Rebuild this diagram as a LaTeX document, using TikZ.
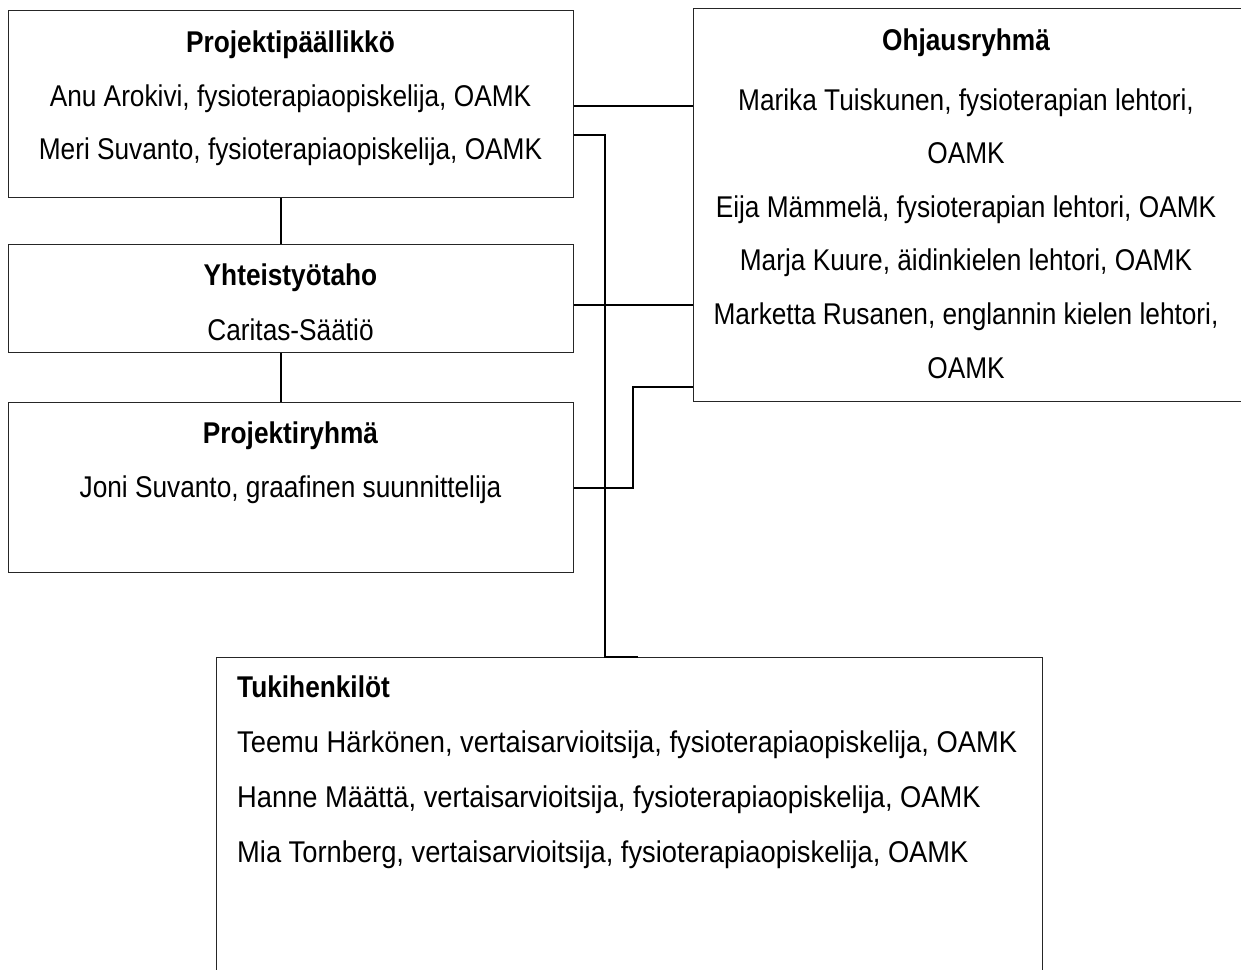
\documentclass[tikz,border=0pt]{standalone}
\usepackage{fontspec}
\setmainfont{Liberation Sans}[FakeStretch=0.875]
\newfontfamily\widerfont{Liberation Sans}[FakeStretch=0.91]
\begin{document}
\begin{tikzpicture}[x=1pt,y=-1pt,
  box/.style={draw=black!85,line width=1.4pt,rectangle,inner sep=0pt,anchor=north west},
  conn/.style={draw=black,line width=1.3pt},
  txt/.style={anchor=base,inner sep=0pt,font=\fontsize{30}{36}\selectfont},
  wtxt/.style={anchor=base west,inner sep=0pt,font=\widerfont\fontsize{30}{36}\selectfont},
  head/.style={txt,font=\fontsize{30}{36}\selectfont\bfseries}]
\useasboundingbox (0,0) rectangle (1241,969);
\clip (0,0) rectangle (1241,969);
\fill[white] (0,0) rectangle (1241,969);
% boxes
\node[box,minimum width=565pt,minimum height=187pt] (b1) at (8,10) {};
\node[box,minimum width=565pt,minimum height=108pt] (b2) at (8,244) {};
\node[box,minimum width=565pt,minimum height=170pt] (b3) at (8,402) {};
\node[box,minimum width=560pt,minimum height=393pt] (b4) at (693,8) {};
\node[box,minimum width=826pt,minimum height=400pt] (b5) at (216,657) {};
% texts box1
\node[head] (t11) at (290.5,52) {Projektipäällikkö};
\node[txt] (t12) at (290.5,106) {Anu Arokivi, fysioterapiaopiskelija, OAMK};
\node[txt] (t13) at (290.5,159) {Meri Suvanto, fysioterapiaopiskelija, OAMK};
% box2
\node[head] (t21) at (290.5,285) {Yhteistyötaho};
\node[txt] (t22) at (290.5,340) {Caritas-Säätiö};
% box3
\node[head] (t31) at (290.5,443) {Projektiryhmä};
\node[txt] (t32) at (290.5,497) {Joni Suvanto, graafinen suunnittelija};
% box4
\node[head] (t41) at (966,50) {Ohjausryhmä};
\node[txt] (t42) at (966,110) {Marika Tuiskunen, fysioterapian lehtori,};
\node[txt] (t43) at (966,163.6) {OAMK};
\node[txt] (t44) at (966,217.2) {Eija Mämmelä, fysioterapian lehtori, OAMK};
\node[txt] (t45) at (966,270.8) {Marja Kuure, äidinkielen lehtori, OAMK};
\node[txt] (t46) at (966,324.4) {Marketta Rusanen, englannin kielen lehtori,};
\node[txt] (t47) at (966,378) {OAMK};
% box5
\node[head,anchor=base west] (t51) at (237,697) {Tukihenkilöt};
\node[wtxt] (t52) at (237,752) {Teemu Härkönen, vertaisarvioitsija, fysioterapiaopiskelija, OAMK};
\node[wtxt] (t53) at (237,807) {Hanne Määttä, vertaisarvioitsija, fysioterapiaopiskelija, OAMK};
\node[wtxt] (t54) at (237,862) {Mia Tornberg, vertaisarvioitsija, fysioterapiaopiskelija, OAMK};
% connectors
\draw[conn] (b1.east |- 0,106) -- (b4.west |- 0,106);
\draw[conn] (b1.east |- 0,135) -- (605,135) -- (605,0 |- b5.north) -- (638,0 |- b5.north);
\draw[conn] (281,0 |- b1.south) -- (281,0 |- b2.north);
\draw[conn] (281,0 |- b2.south) -- (281,0 |- b3.north);
\draw[conn] (b2.east |- 0,305) -- (b4.west |- 0,305);
\draw[conn] (b3.east |- 0,488) -- (633,488) -- (633,387) -- (b4.west |- 0,387);
\end{tikzpicture}
\end{document}
